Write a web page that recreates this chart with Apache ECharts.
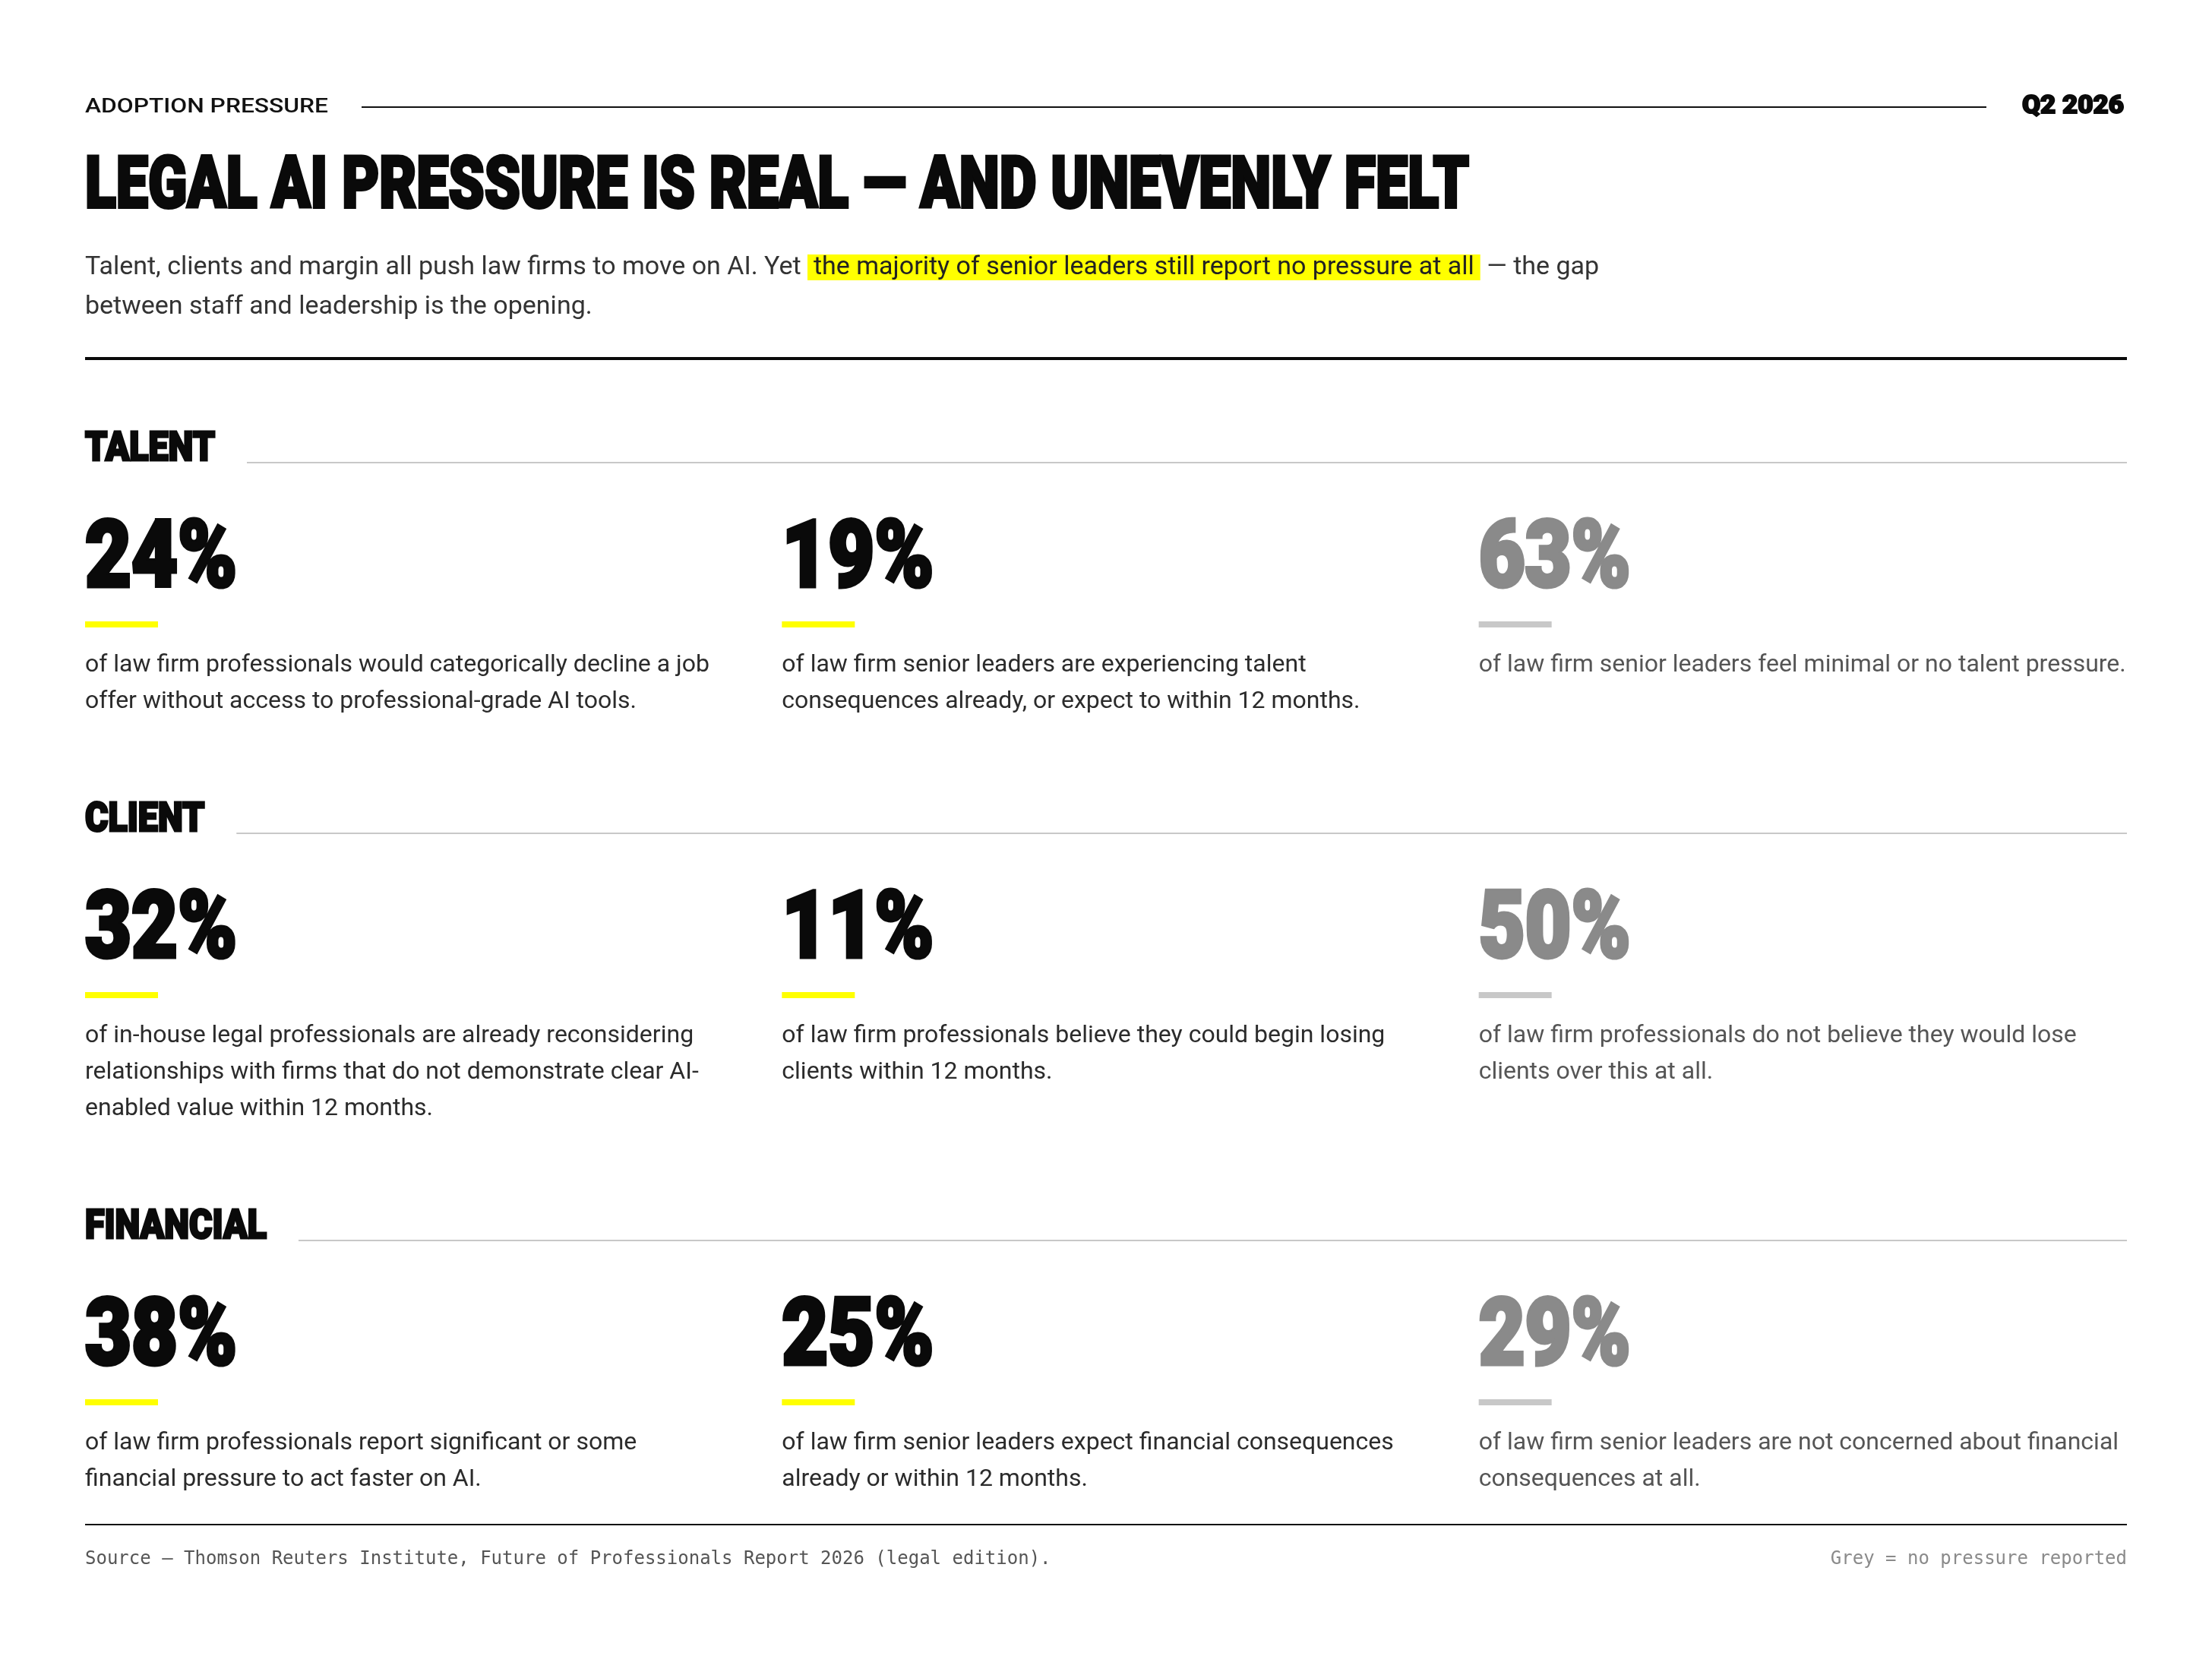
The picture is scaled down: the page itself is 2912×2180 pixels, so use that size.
<!DOCTYPE html>
<html>
<head>
<meta charset="utf-8">
<script src="https://cdn.jsdelivr.net/npm/echarts@6/dist/echarts.min.js"></script>
<style>
  html, body { margin: 0; background: #ffffff; }
  #chart { width: 2912px; height: 2180px; }
</style>
</head>
<body>
<div id="chart"></div>
<script>
// texts
const kicker = 'ADOPTION PRESSURE';
const period = 'Q2 2026';
const headline = 'LEGAL AI PRESSURE IS REAL — AND UNEVENLY FELT';
const introLead = 'Talent, clients and margin all push law firms to move on AI. Yet ';
const introHighlight = 'the majority of senior leaders still report no pressure at all';
const introTail = ' — the gap';
const introLine2 = 'between staff and leadership is the opening.';
const sourceNote = 'Source — Thomson Reuters Institute, Future of Professionals Report 2026 (legal edition).';
const legendNote = 'Grey = no pressure reported';

// data
const columns = ['Professionals', 'Senior leaders', 'No pressure'];
const sections = ['TALENT', 'CLIENT', 'FINANCIAL'];

const talentValues = [24, 19, 63];
const clientValues = [32, 11, 50];
const financialValues = [38, 25, 29];

const talentNotes = [
  'of law firm professionals would categorically decline a job\noffer without access to professional-grade AI tools.',
  'of law firm senior leaders are experiencing talent\nconsequences already, or expect to within 12 months.',
  'of law firm senior leaders feel minimal or no talent pressure.'
];
const clientNotes = [
  'of in-house legal professionals are already reconsidering\nrelationships with firms that do not demonstrate clear AI-\nenabled value within 12 months.',
  'of law firm professionals believe they could begin losing\nclients within 12 months.',
  'of law firm professionals do not believe they would lose\nclients over this at all.'
];
const financialNotes = [
  'of law firm professionals report significant or some\nfinancial pressure to act faster on AI.',
  'of law firm senior leaders expect financial consequences\nalready or within 12 months.',
  'of law firm senior leaders are not concerned about financial\nconsequences at all.'
];

const rows = [
  { name: sections[0], values: talentValues, notes: talentNotes },
  { name: sections[1], values: clientValues, notes: clientNotes },
  { name: sections[2], values: financialValues, notes: financialNotes }
];

// measuring helper for the condensed display type
const ctx = document.createElement('canvas').getContext('2d');
function textWidth(t, font) {
  ctx.font = font;
  return ctx.measureText(t).width;
}

const LEFT = 112;
const RIGHT = 2800;
const INK = '#0a0a0a';
const GREY_NUM = '#8a8a8a';
const GREY_BAR = '#c8c8c8';
const YELLOW = '#ffff00';

const titleFont = '900 95px Roboto';
const titleScale = 1822 / textWidth(headline, titleFont);
const headFont = '900 54px Roboto';
const headScale = 171 / textWidth('TALENT', headFont);
const numFont = '900 122px Roboto';
const numScale = 200 / textWidth('24%', numFont);
const periodFont = '900 34px Roboto';
const periodScale = 134 / textWidth(period, periodFont);
const kickerFont = '500 25px Roboto';
const kickerScale = 320 / textWidth(kicker, kickerFont);

// row tops (section rule y), each row grows with its longest note
const rowTops = [609];
rows.forEach((r, i) => {
  const lines = Math.max(...r.notes.map(n => n.split('\n').length));
  rowTops.push(rowTops[i] + 392 + lines * 48);
});

const graphics = [
  {
    type: 'text', x: LEFT, y: 142, scaleX: kickerScale,
    style: { text: kicker, font: kickerFont, fill: '#111111', align: 'left', verticalAlign: 'middle' }
  },
  { type: 'rect', shape: { x: 476, y: 140, width: 2615 - 476, height: 2 }, style: { fill: '#111111' } },
  {
    type: 'text', x: RIGHT - 4, y: 140, scaleX: periodScale,
    style: { text: period, font: periodFont, fill: INK, stroke: INK, lineWidth: 2, align: 'right', verticalAlign: 'middle' }
  },
  {
    type: 'text', x: LEFT, y: 249, scaleX: titleScale,
    style: { text: headline, font: titleFont, fill: INK, stroke: INK, lineWidth: 4, align: 'left', verticalAlign: 'middle' }
  },
  {
    type: 'text', x: LEFT, y: 326,
    style: {
      text: '{n|' + introLead + '}{h|' + introHighlight + '}{n|' + introTail + '}\n{n|' + introLine2 + '}',
      align: 'left', verticalAlign: 'top',
      rich: {
        n: { font: '400 34px Roboto', fill: '#333333', lineHeight: 52 },
        h: { font: '400 34px Roboto', fill: '#222222', backgroundColor: YELLOW, padding: [0, 8], lineHeight: 40 }
      }
    }
  },
  { type: 'rect', shape: { x: LEFT, y: 470, width: RIGHT - LEFT, height: 4 }, style: { fill: INK } },
  { type: 'rect', shape: { x: LEFT, y: 2006, width: RIGHT - LEFT, height: 2 }, style: { fill: '#111111' } },
  {
    type: 'text', x: LEFT, y: 2053,
    style: { text: sourceNote, font: '400 24px "DejaVu Sans Mono"', fill: '#555555', align: 'left', verticalAlign: 'middle' }
  },
  {
    type: 'text', x: RIGHT, y: 2053,
    style: { text: legendNote, font: '400 24px "DejaVu Sans Mono"', fill: '#8a8a8a', align: 'right', verticalAlign: 'middle' }
  }
];

rows.forEach((r, i) => {
  const L = rowTops[i];
  const w = textWidth(r.name, headFont) * headScale;
  graphics.push({
    type: 'text', x: LEFT, y: L - 17, scaleX: headScale,
    style: { text: r.name, font: headFont, fill: INK, stroke: INK, lineWidth: 3, align: 'left', verticalAlign: 'middle' }
  });
  graphics.push({
    type: 'rect', shape: { x: LEFT + w + 42, y: L - 1, width: RIGHT - (LEFT + w + 42), height: 2 },
    style: { fill: GREY_BAR }
  });
});

const grids = [], xAxes = [], yAxes = [], series = [];
rows.forEach((r, i) => {
  grids.push({ left: LEFT, top: rowTops[i], width: 2752, height: 300 });
  xAxes.push({ type: 'category', data: columns, gridIndex: i, show: false });
  yAxes.push({ type: 'value', min: 0, max: 100, gridIndex: i, show: false });
  series.push({
    type: 'custom',
    name: r.name,
    xAxisIndex: i,
    yAxisIndex: i,
    clip: false,
    silent: true,
    data: r.values.map((v, c) => [c, v]),
    renderItem: (params, api) => {
      const c = api.value(0);
      const v = api.value(1);
      const band = api.size([1, 0])[0];
      const x = api.coord([c, 0])[0] - band / 2;
      const top = params.coordSys.y;
      const grey = c === columns.length - 1;
      const numColor = grey ? GREY_NUM : INK;
      return {
        type: 'group',
        children: [
          {
            type: 'text', x: x, y: top + 132, scaleX: numScale,
            style: { text: v + '%', font: numFont, fill: numColor, stroke: numColor, lineWidth: 5, align: 'left', verticalAlign: 'middle' }
          },
          {
            type: 'rect', shape: { x: x, y: top + 209, width: 96, height: 8 },
            style: { fill: grey ? GREY_BAR : YELLOW }
          },
          {
            type: 'text', x: x, y: top + 243,
            style: {
              text: r.notes[c], font: '400 32px Roboto', fill: grey ? '#555555' : '#2b2b2b',
              lineHeight: 48, align: 'left', verticalAlign: 'top'
            }
          }
        ]
      };
    }
  });
});

const chart = echarts.init(document.getElementById('chart'));
chart.setOption({
  backgroundColor: '#ffffff',
  animation: false,
  grid: grids,
  xAxis: xAxes,
  yAxis: yAxes,
  graphic: { elements: graphics },
  series: series
});
</script>
</body>
</html>
